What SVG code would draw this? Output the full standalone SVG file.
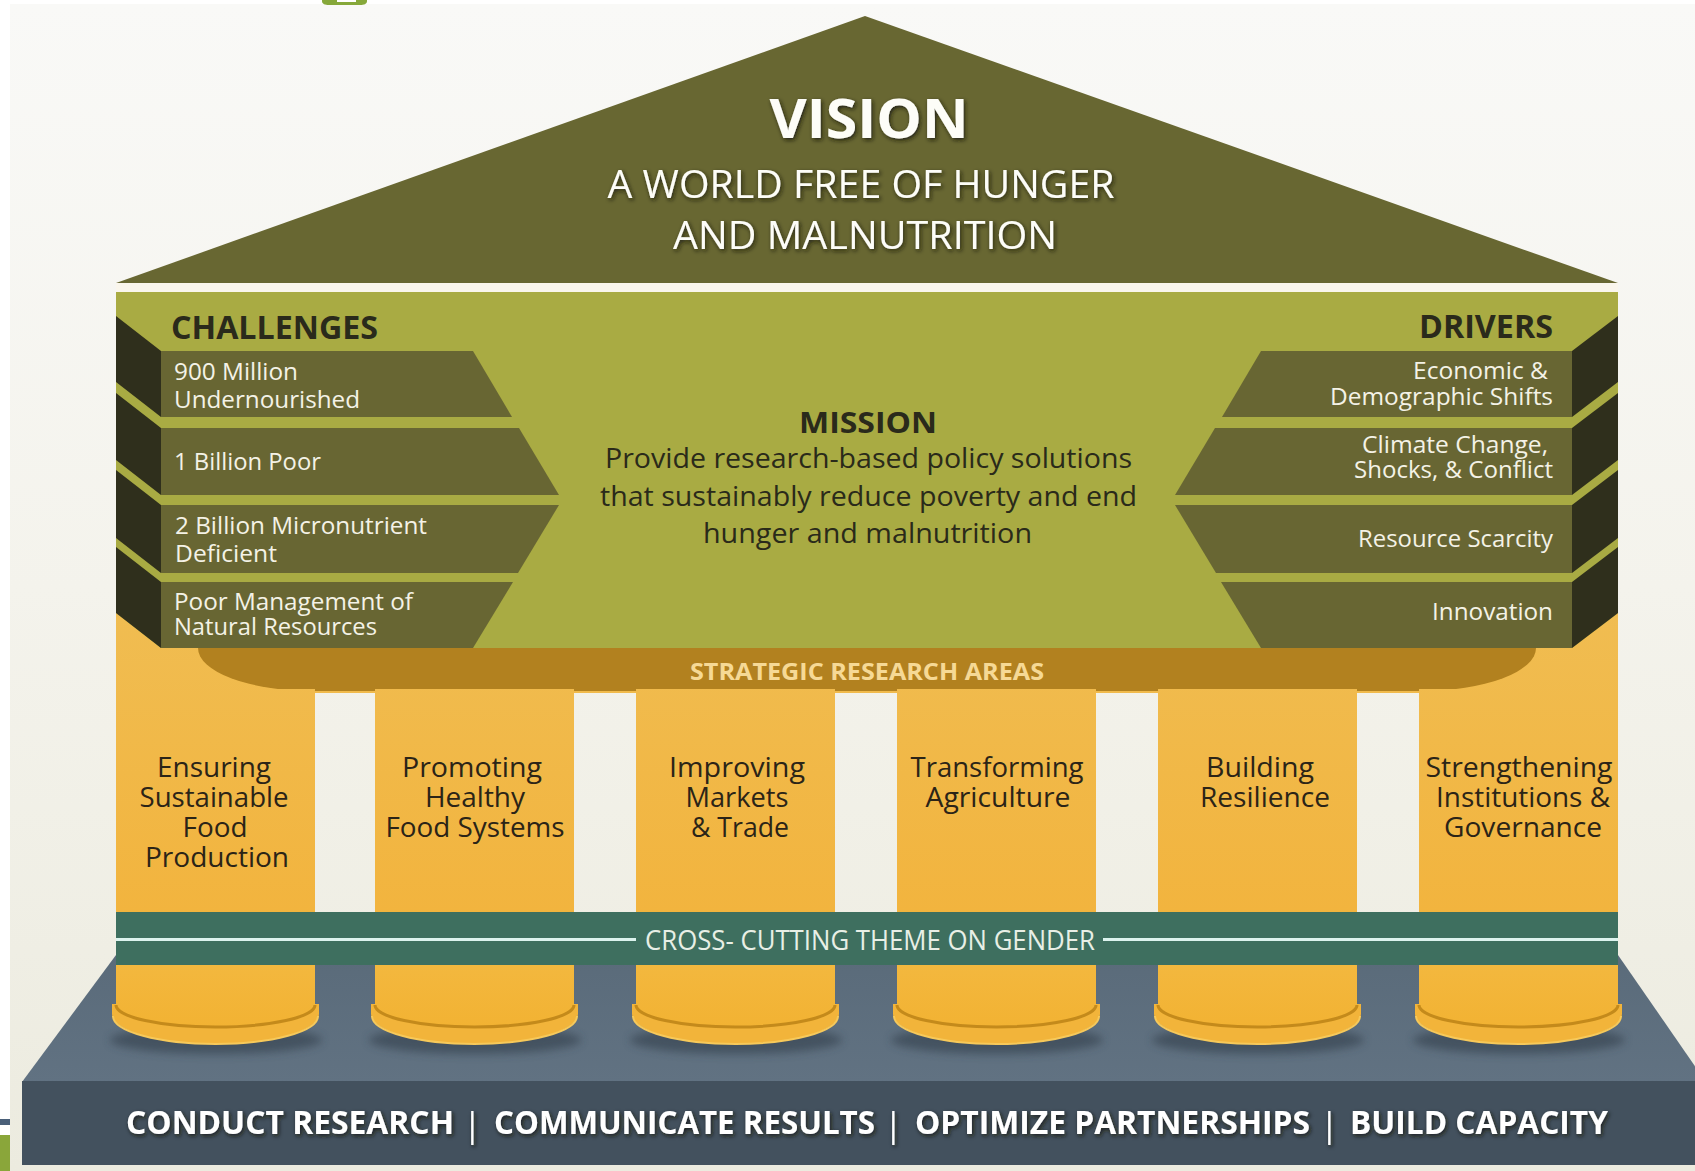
<svg xmlns="http://www.w3.org/2000/svg" width="1695" height="1171" viewBox="0 0 1695 1171">
  <style>
    text { font-family: 'Open Sans', 'Noto Sans', 'DejaVu Sans', sans-serif; }
    .hdr { font-weight: 700; fill: #2a2a1b; }
    .item { font-size: 23px; fill: #f4f2e6; }
    .face { fill: #686633; }
    .side { fill: #2f2f1c; }
    .col { fill: url(#colGrad); }
    .lbl { font-size: 27px; fill: #2b2417; text-anchor: middle; }
    .base { font-size: 33px; font-weight: 700; fill: #ffffff; filter: url(#glow); }
    .bar { font-size: 34px; font-weight: 400; }
    .plinth { fill: #f2b43a; }
    .body { fill: url(#bodyGrad); }
    .seam { fill: none; stroke: #c48a1b; stroke-width: 3; }
    .rim { fill: none; stroke: #f7c95a; stroke-width: 2; }
    .shadow { fill: #2f3b46; opacity: 0.55; filter: url(#soft); }
  </style>
  <defs>
    <linearGradient id="bg" x1="0" y1="0" x2="0" y2="1">
      <stop offset="0" stop-color="#f9f9f7"/>
      <stop offset="0.5" stop-color="#f4f3ec"/>
      <stop offset="1" stop-color="#ecebdf"/>
    </linearGradient>
    <linearGradient id="colGrad" gradientUnits="userSpaceOnUse" x1="0" y1="600" x2="0" y2="912">
      <stop offset="0" stop-color="#f0bd52"/>
      <stop offset="1" stop-color="#f2b43e"/>
    </linearGradient>
    <linearGradient id="bodyGrad" gradientUnits="userSpaceOnUse" x1="0" y1="962" x2="0" y2="1030">
      <stop offset="0" stop-color="#f3b83f"/>
      <stop offset="1" stop-color="#f2b232"/>
    </linearGradient>
    <linearGradient id="platTop" gradientUnits="userSpaceOnUse" x1="0" y1="955" x2="0" y2="1082">
      <stop offset="0" stop-color="#5a6b7a"/>
      <stop offset="1" stop-color="#617282"/>
    </linearGradient>
    <filter id="glow" x="-10%" y="-40%" width="120%" height="180%">
      <feDropShadow dx="1.5" dy="2" stdDeviation="2" flood-color="#15150a" flood-opacity="0.85"/>
    </filter>
    <filter id="soft" x="-20%" y="-100%" width="140%" height="300%">
      <feGaussianBlur stdDeviation="4"/>
    </filter>
  </defs>

  <!-- page backdrop and slide edge marks -->
  <g id="background">
    <rect x="0" y="0" width="1695" height="1171" fill="#ffffff"/>
    <rect x="10" y="4" width="1685" height="1167" fill="url(#bg)"/>
    <path d="M322,0 H367 V1 C367,4 364,5 360,5 H329 C325,5 322,4 322,1 Z" fill="#86a83a"/>
    <rect x="337" y="0" width="19" height="2" fill="#ffffff"/>
    <rect x="0" y="1119" width="10" height="6" fill="#4a6079"/>
    <rect x="0" y="1135" width="10" height="36" fill="#8aa63a"/>
  </g>

  <!-- roof: vision -->
  <g id="vision">
    <polygon points="116,283 865,16 1618,283" fill="#686732"/>
    <rect x="116" y="283" width="1502" height="9" fill="#faf6ec"/>
    <text x="869" y="138" text-anchor="middle" font-size="54" font-weight="700" fill="#fdfdf8" textLength="199" lengthAdjust="spacingAndGlyphs" filter="url(#glow)">VISION</text>
    <text text-anchor="middle" font-size="38" fill="#fdfdf8" filter="url(#glow)"><tspan x="861" y="198" textLength="507" lengthAdjust="spacingAndGlyphs">A WORLD FREE OF HUNGER</tspan><tspan x="865" y="249" textLength="384" lengthAdjust="spacingAndGlyphs">AND MALNUTRITION</tspan></text>
  </g>

  <!-- base platform (drawn under columns and gender band) -->
  <g id="platform">
    <polygon points="116,955 1618,955 1706,1082 22,1082" fill="url(#platTop)"/>
    <rect x="22" y="1081" width="1673" height="84" fill="#43515e"/>
    <text class="base" y="1134"><tspan x="126" textLength="328" lengthAdjust="spacingAndGlyphs">CONDUCT RESEARCH</tspan><tspan class="bar" x="463" y="1137">|</tspan><tspan x="494" y="1134" textLength="381" lengthAdjust="spacingAndGlyphs">COMMUNICATE RESULTS</tspan><tspan class="bar" x="884" y="1137">|</tspan><tspan x="915" y="1134" textLength="395" lengthAdjust="spacingAndGlyphs">OPTIMIZE PARTNERSHIPS</tspan><tspan class="bar" x="1320" y="1137">|</tspan><tspan x="1350" y="1134" textLength="258" lengthAdjust="spacingAndGlyphs">BUILD CAPACITY</tspan></text>
  </g>

  <!-- mission panel with yellow lintel behind -->
  <g id="mission">
    <rect x="116" y="600" width="1502" height="93" class="col"/>
    <polygon points="116,292 1618,292 1618,613 1572,648 161,648 116,613" fill="#a9ab43"/>
    <text class="hdr" x="799" y="433" font-size="29" textLength="138" lengthAdjust="spacingAndGlyphs">MISSION</text>
    <text font-size="27" fill="#2a2a1a"><tspan x="605" y="468" textLength="527" lengthAdjust="spacingAndGlyphs">Provide research-based policy solutions</tspan><tspan x="600" y="506" textLength="537" lengthAdjust="spacingAndGlyphs">that sustainably reduce poverty and end</tspan><tspan x="703" y="543" textLength="329" lengthAdjust="spacingAndGlyphs">hunger and malnutrition</tspan></text>
  </g>

  <!-- challenges stack -->
  <g id="challenges">
    <text class="hdr" x="171" y="339" font-size="33" textLength="207" lengthAdjust="spacingAndGlyphs">CHALLENGES</text>
    <g id="challenge-1">
      <polygon class="side" points="116,316 161,351 161,417 116,382"/>
      <polygon class="face" points="161,351 473,351 512,417 161,417"/>
      <text class="item"><tspan x="174" y="380" textLength="124" lengthAdjust="spacingAndGlyphs">900 Million</tspan><tspan x="174" y="408" textLength="186" lengthAdjust="spacingAndGlyphs">Undernourished</tspan></text>
    </g>
    <g id="challenge-2">
      <polygon class="side" points="116,393 161,428 161,495 116,460"/>
      <polygon class="face" points="161,428 519,428 559,495 161,495"/>
      <text class="item" x="174" y="470" textLength="147" lengthAdjust="spacingAndGlyphs">1 Billion Poor</text>
    </g>
    <g id="challenge-3">
      <polygon class="side" points="116,470 161,505 161,573 116,538"/>
      <polygon class="face" points="161,505 559,505 518,573 161,573"/>
      <text class="item"><tspan x="175" y="534" textLength="252" lengthAdjust="spacingAndGlyphs">2 Billion Micronutrient</tspan><tspan x="175" y="562" textLength="102" lengthAdjust="spacingAndGlyphs">Deficient</tspan></text>
    </g>
    <g id="challenge-4">
      <polygon class="side" points="116,547 161,582 161,648 116,613"/>
      <polygon class="face" points="161,582 513,582 473,648 161,648"/>
      <text class="item"><tspan x="174" y="610" textLength="239" lengthAdjust="spacingAndGlyphs">Poor Management of</tspan><tspan x="174" y="635" textLength="203" lengthAdjust="spacingAndGlyphs">Natural Resources</tspan></text>
    </g>
  </g>

  <!-- drivers stack -->
  <g id="drivers">
    <text class="hdr" x="1419" y="338" font-size="33" textLength="134" lengthAdjust="spacingAndGlyphs">DRIVERS</text>
    <g id="driver-1">
      <polygon class="side" points="1572,351 1618,316 1618,382 1572,417"/>
      <polygon class="face" points="1261,351 1572,351 1572,417 1222,417"/>
      <text class="item"><tspan x="1413" y="379" textLength="135" lengthAdjust="spacingAndGlyphs">Economic &amp;</tspan><tspan x="1330" y="405" textLength="223" lengthAdjust="spacingAndGlyphs">Demographic Shifts</tspan></text>
    </g>
    <g id="driver-2">
      <polygon class="side" points="1572,428 1618,393 1618,460 1572,495"/>
      <polygon class="face" points="1215,428 1572,428 1572,495 1175,495"/>
      <text class="item"><tspan x="1362" y="453" textLength="186" lengthAdjust="spacingAndGlyphs">Climate Change,</tspan><tspan x="1354" y="478" textLength="199" lengthAdjust="spacingAndGlyphs">Shocks, &amp; Conflict</tspan></text>
    </g>
    <g id="driver-3">
      <polygon class="side" points="1572,505 1618,470 1618,538 1572,573"/>
      <polygon class="face" points="1175,505 1572,505 1572,573 1216,573"/>
      <text class="item" x="1358" y="547" textLength="195" lengthAdjust="spacingAndGlyphs">Resource Scarcity</text>
    </g>
    <g id="driver-4">
      <polygon class="side" points="1572,582 1618,547 1618,613 1572,648"/>
      <polygon class="face" points="1221,582 1572,582 1572,648 1261,648"/>
      <text class="item" x="1432" y="620" textLength="121" lengthAdjust="spacingAndGlyphs">Innovation</text>
    </g>
  </g>

  <!-- strategic research areas band -->
  <g id="strategic-band">
    <path d="M198,648 H1536 A115 43 0 0 1 1421,691 H313 A115 43 0 0 1 198,648 Z" fill="#b2811f"/>
    <text x="690" y="680" font-size="24" font-weight="700" fill="#f6d995" textLength="354" lengthAdjust="spacingAndGlyphs">STRATEGIC RESEARCH AREAS</text>
  </g>

  <!-- research area columns -->
  <g id="column-1">
    <rect class="col" x="116" y="689" width="199" height="226"/>
    <ellipse class="shadow" cx="216" cy="1040" rx="106" ry="14"/>
    <path class="plinth" d="M112,1004 V1014 A103.5 30 0 0 0 319,1014 V1004 Z"/>
    <path class="rim" d="M113,1016 A102.5 28 0 0 0 318,1016"/>
    <path class="body" d="M116,962 H315 V1004 A99.5 22 0 0 1 116,1004 Z"/>
    <path class="seam" d="M116,1005 A99.5 22 0 0 0 315,1005"/>
    <text class="lbl"><tspan x="214" y="777" textLength="114" lengthAdjust="spacingAndGlyphs">Ensuring</tspan><tspan x="214" y="807" textLength="149" lengthAdjust="spacingAndGlyphs">Sustainable</tspan><tspan x="215" y="837" textLength="65" lengthAdjust="spacingAndGlyphs">Food</tspan><tspan x="217" y="867" textLength="144" lengthAdjust="spacingAndGlyphs">Production</tspan></text>
  </g>
  <g id="column-2">
    <rect class="col" x="375" y="689" width="199" height="226"/>
    <ellipse class="shadow" cx="475" cy="1040" rx="106" ry="14"/>
    <path class="plinth" d="M371,1004 V1014 A103.5 30 0 0 0 578,1014 V1004 Z"/>
    <path class="rim" d="M372,1016 A102.5 28 0 0 0 577,1016"/>
    <path class="body" d="M375,962 H574 V1004 A99.5 22 0 0 1 375,1004 Z"/>
    <path class="seam" d="M375,1005 A99.5 22 0 0 0 574,1005"/>
    <text class="lbl"><tspan x="472" y="777" textLength="140" lengthAdjust="spacingAndGlyphs">Promoting</tspan><tspan x="475" y="807" textLength="100" lengthAdjust="spacingAndGlyphs">Healthy</tspan><tspan x="475" y="837" textLength="179" lengthAdjust="spacingAndGlyphs">Food Systems</tspan></text>
  </g>
  <g id="column-3">
    <rect class="col" x="636" y="689" width="199" height="226"/>
    <ellipse class="shadow" cx="736" cy="1040" rx="106" ry="14"/>
    <path class="plinth" d="M632,1004 V1014 A103.5 30 0 0 0 839,1014 V1004 Z"/>
    <path class="rim" d="M633,1016 A102.5 28 0 0 0 838,1016"/>
    <path class="body" d="M636,962 H835 V1004 A99.5 22 0 0 1 636,1004 Z"/>
    <path class="seam" d="M636,1005 A99.5 22 0 0 0 835,1005"/>
    <text class="lbl"><tspan x="737" y="777" textLength="136" lengthAdjust="spacingAndGlyphs">Improving</tspan><tspan x="737" y="807" textLength="103" lengthAdjust="spacingAndGlyphs">Markets</tspan><tspan x="740" y="837" textLength="98" lengthAdjust="spacingAndGlyphs">&amp; Trade</tspan></text>
  </g>
  <g id="column-4">
    <rect class="col" x="897" y="689" width="199" height="226"/>
    <ellipse class="shadow" cx="997" cy="1040" rx="106" ry="14"/>
    <path class="plinth" d="M893,1004 V1014 A103.5 30 0 0 0 1100,1014 V1004 Z"/>
    <path class="rim" d="M894,1016 A102.5 28 0 0 0 1099,1016"/>
    <path class="body" d="M897,962 H1096 V1004 A99.5 22 0 0 1 897,1004 Z"/>
    <path class="seam" d="M897,1005 A99.5 22 0 0 0 1096,1005"/>
    <text class="lbl"><tspan x="997" y="777" textLength="173" lengthAdjust="spacingAndGlyphs">Transforming</tspan><tspan x="998" y="807" textLength="145" lengthAdjust="spacingAndGlyphs">Agriculture</tspan></text>
  </g>
  <g id="column-5">
    <rect class="col" x="1158" y="689" width="199" height="226"/>
    <ellipse class="shadow" cx="1258" cy="1040" rx="106" ry="14"/>
    <path class="plinth" d="M1154,1004 V1014 A103.5 30 0 0 0 1361,1014 V1004 Z"/>
    <path class="rim" d="M1155,1016 A102.5 28 0 0 0 1360,1016"/>
    <path class="body" d="M1158,962 H1357 V1004 A99.5 22 0 0 1 1158,1004 Z"/>
    <path class="seam" d="M1158,1005 A99.5 22 0 0 0 1357,1005"/>
    <text class="lbl"><tspan x="1260" y="777" textLength="108" lengthAdjust="spacingAndGlyphs">Building</tspan><tspan x="1265" y="807" textLength="130" lengthAdjust="spacingAndGlyphs">Resilience</tspan></text>
  </g>
  <g id="column-6">
    <rect class="col" x="1419" y="689" width="199" height="226"/>
    <ellipse class="shadow" cx="1519" cy="1040" rx="106" ry="14"/>
    <path class="plinth" d="M1415,1004 V1014 A103.5 30 0 0 0 1622,1014 V1004 Z"/>
    <path class="rim" d="M1416,1016 A102.5 28 0 0 0 1621,1016"/>
    <path class="body" d="M1419,962 H1618 V1004 A99.5 22 0 0 1 1419,1004 Z"/>
    <path class="seam" d="M1419,1005 A99.5 22 0 0 0 1618,1005"/>
    <text class="lbl"><tspan x="1519" y="777" textLength="187" lengthAdjust="spacingAndGlyphs">Strengthening</tspan><tspan x="1523" y="807" textLength="174" lengthAdjust="spacingAndGlyphs">Institutions &amp;</tspan><tspan x="1523" y="837" textLength="158" lengthAdjust="spacingAndGlyphs">Governance</tspan></text>
  </g>

  <!-- cross-cutting gender band -->
  <g id="gender-band">
    <rect x="116" y="912" width="1502" height="53" fill="#3e6f5f"/>
    <rect x="116" y="938" width="520" height="3" fill="#dcf3ee"/>
    <rect x="1103" y="938" width="515" height="3" fill="#dcf3ee"/>
    <text x="645" y="950" font-size="28" fill="#e8efe6" textLength="450" lengthAdjust="spacingAndGlyphs">CROSS- CUTTING THEME ON GENDER</text>
  </g>

  <g id="connectors"/>
</svg>
